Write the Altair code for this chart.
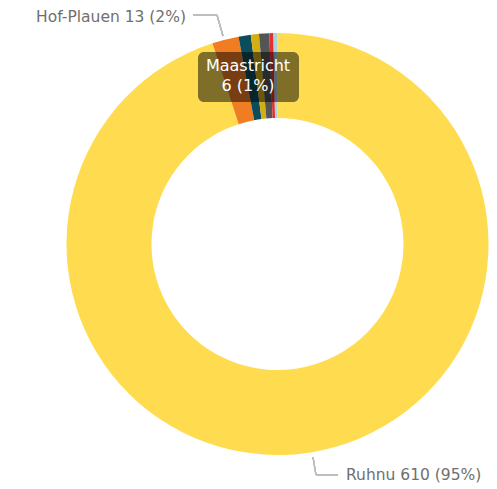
import altair as alt
import pandas as pd

names = ["Ruhnu", "Hof-Plauen", "Maastricht", "Gent", "Pori", "Ystad", "Nida"]
values = [610, 13, 6, 4, 5, 2, 2]
colors = ["#FFDC4F", "#F07D22", "#0B4D5A", "#D4AE15", "#555555", "#E03030", "#A9D4E0"]

total = sum(values)
df = pd.DataFrame({"name": names, "value": values, "idx": list(range(len(names)))})


def label(n):
    v = values[names.index(n)]
    return f"{n} {v} ({round(100 * v / total)}%)"


PAD_TOP = 8
W, H = 481, 477 - PAD_TOP
MX, MY = 8, 8 + PAD_TOP  # page offsets of the plot origin
CX, CY = 277.5 - MX, 244 - MY
FONT = "DejaVu Sans"

base = alt.Chart(df)

arc = base.mark_arc(outerRadius=211, innerRadius=126).encode(
    theta=alt.Theta("value:Q", stack=True),
    color=alt.Color("name:N", scale=alt.Scale(domain=names, range=colors), legend=None),
    order=alt.Order("idx:Q", sort="ascending"),
    x=alt.value(CX),
    y=alt.value(CY),
)


def rule(x1, y1, x2, y2):
    return base.mark_rule(color="#BDBDBD", strokeWidth=1.2).encode(
        x=alt.value(x1 - MX), y=alt.value(y1 - MY), x2=alt.value(x2 - MX), y2=alt.value(y2 - MY)
    )


def txt(s, x, y, align, color="#707070", size=15.5):
    return alt.Chart(pd.DataFrame({"t": [s]})).mark_text(
        align=align, baseline="middle", font=FONT, fontSize=size, color=color
    ).encode(text="t:N", x=alt.value(x - MX), y=alt.value(y - MY))


hof_lines = rule(193, 15, 217, 15) + rule(217, 15, 223, 36)
ruh_lines = rule(313, 457, 316, 475) + rule(316, 475, 338, 475)

hof_txt = txt(label("Hof-Plauen"), 186, 17, "right")
ruh_txt = txt(label("Ruhnu"), 346, 475, "left")

tip_box = alt.Chart(pd.DataFrame({"a": [0]})).mark_rect(
    color="black", opacity=0.5, cornerRadius=6
).encode(x=alt.value(198 - MX), x2=alt.value(299 - MX), y=alt.value(52 - MY), y2=alt.value(102 - MY))

m = values[names.index("Maastricht")]
tip1 = txt("Maastricht", 248, 66, "center", color="white", size=16)
tip2 = txt(f"{m} ({round(100 * m / total)}%)", 248, 86, "center", color="white", size=16)

chart = alt.layer(
    arc, hof_lines, ruh_lines, hof_txt, ruh_txt, tip_box, tip1, tip2
).properties(
    width=W, height=H,
    padding={"left": 0, "top": PAD_TOP, "right": 0, "bottom": 0},
    autosize=alt.AutoSizeParams(type="none"),
).configure_view(stroke=None)

chart.save("out.html", embed_options={"renderer": "svg", "actions": False})
